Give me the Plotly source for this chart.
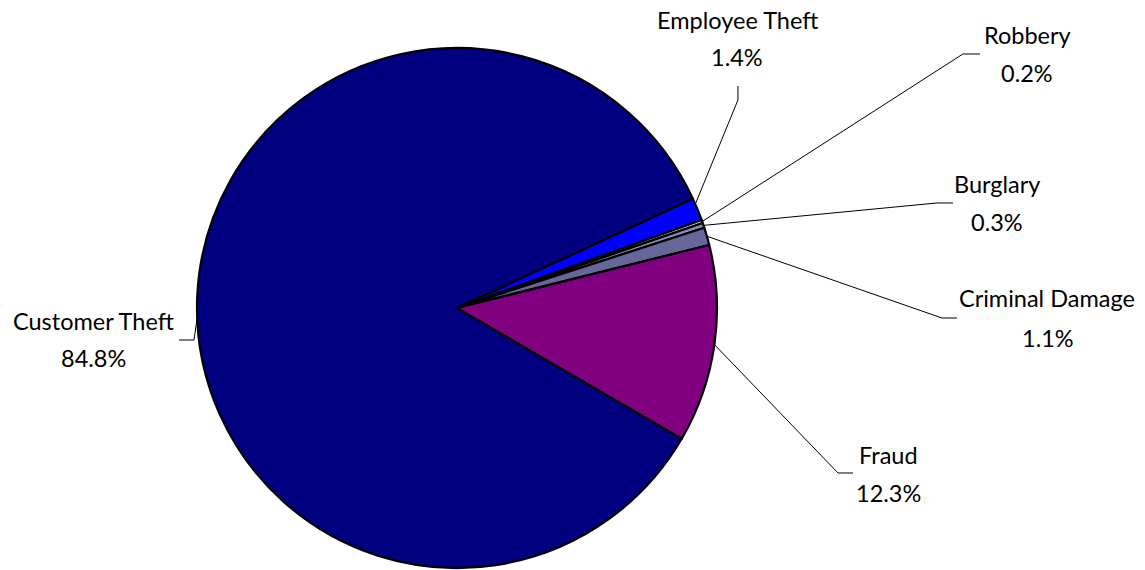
import math
import plotly.graph_objects as go

# Shares of incidents by type (%)
categories = ["Customer Theft", "Employee Theft", "Robbery", "Burglary", "Criminal Damage", "Fraud"]
shares = [84.8, 1.4, 0.2, 0.3, 1.1, 12.3]
value_labels = ["84.8%", "1.4%", "0.2%", "0.3%", "1.1%", "12.3%"]
slice_colors = ["#000080", "#0000FF", "#CCCCFF", "#8C8CB4", "#666699", "#800080"]

W, H = 1145, 570
CX, CY, R = 457, 308, 260          # pie centre and radius in pixels
ROTATION = 120.2                    # start of first slice, degrees clockwise from 12 o'clock
FONT = "Lato"
FS = 23.5

# Label placement (pixels): name centre, value centre, leader elbow, leader end,
# and where along its slice the leader line touches the rim (0..1)
label_layout = {
    "Customer Theft":  dict(name=(93, 321),  value=(93, 358),  elbow=(194, 340), end=(179, 340), frac=0.484),
    "Employee Theft":  dict(name=(737, 20),  value=(737, 57),  elbow=(738, 100), end=(738, 86),  frac=0.25),
    "Robbery":         dict(name=(1027, 35), value=(1027, 73), elbow=(963, 54),  end=(980, 54),  frac=0.5),
    "Burglary":        dict(name=(997, 184), value=(997, 222), elbow=(937, 203), end=(953, 203), frac=0.5),
    "Criminal Damage": dict(name=(1047, 298), value=(1048, 338), elbow=(942, 318), end=(957, 318), frac=0.5),
    "Fraud":           dict(name=(888, 455), value=(888, 493), elbow=(838, 473), end=(853, 473), frac=0.5),
}


def px(x, y):
    return x / W, 1 - y / H


def rim_point(angle_deg):
    a = math.radians(angle_deg)
    return CX + R * math.sin(a), CY - R * math.cos(a)


fig = go.Figure(
    go.Pie(
        labels=categories,
        values=shares,
        sort=False,
        direction="clockwise",
        rotation=ROTATION,
        textinfo="none",
        hoverinfo="label+percent",
        marker=dict(colors=slice_colors, line=dict(color="#000000", width=2.2)),
        domain=dict(x=[(CX - R) / W, (CX + R) / W], y=[(H - CY - R) / H, (H - CY + R) / H]),
        showlegend=False,
    )
)

total = sum(shares)
cum = 0.0
shapes = []
annotations = []
for cat, val, vlab in zip(categories, shares, value_labels):
    lay = label_layout[cat]
    ang = ROTATION + 360.0 * (cum + lay["frac"] * val) / total
    cum += val
    ax, ay = rim_point(ang)
    pts = [(ax, ay), lay["elbow"], lay["end"]]
    path = "M " + " L ".join("{:.4f},{:.4f}".format(*px(x, y)) for x, y in pts)
    shapes.append(dict(type="path", xref="paper", yref="paper", path=path,
                       line=dict(color="#000000", width=1)))
    for txt, pos in ((cat, lay["name"]), (vlab, lay["value"])):
        x, y = px(*pos)
        annotations.append(dict(text=txt, x=x, y=y, xref="paper", yref="paper",
                                xanchor="center", yanchor="middle", showarrow=False,
                                font=dict(family=FONT, size=FS, color="#000000")))

fig.update_layout(
    width=W, height=H,
    margin=dict(l=0, r=0, t=0, b=0),
    paper_bgcolor="#FFFFFF",
    plot_bgcolor="#FFFFFF",
    shapes=shapes,
    annotations=annotations,
)

fig.write_html("out.html")
